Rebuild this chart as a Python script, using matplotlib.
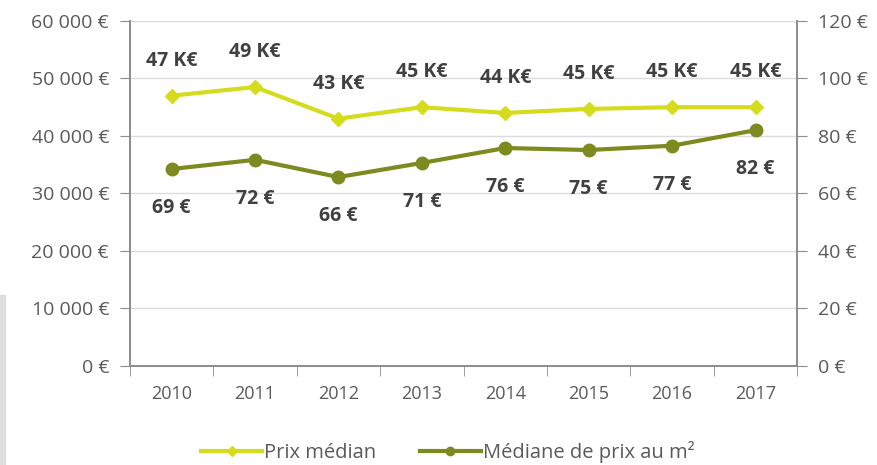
import matplotlib.pyplot as plt
import matplotlib.patches as mpatches
from matplotlib.ticker import FuncFormatter

years = ["2010", "2011", "2012", "2013", "2014", "2015", "2016", "2017"]
prix_median = [47000, 48500, 43000, 45000, 44000, 44700, 45000, 45000]
prix_m2 = [68.5, 71.7, 65.7, 70.6, 75.8, 75.1, 76.6, 82.0]
prix_labels = ["47 K€", "49 K€", "43 K€", "45 K€", "44 K€", "45 K€", "45 K€", "45 K€"]
m2_labels = ["69 €", "72 €", "66 €", "71 €", "76 €", "75 €", "77 €", "82 €"]

LIGHT = "#d5dc1e"
DARK = "#7d8a1f"
TXT = "#404040"
TICK = "#5a5a5a"
AXC = "#8c8c8c"

plt.rcParams["font.family"] = ["Open Sans", "DejaVu Sans"]

fig = plt.figure(figsize=(8.78, 4.65), dpi=100)
ax = fig.add_axes([0.148, 0.213, 0.760, 0.742])
ax2 = ax.twinx()

x = list(range(len(years)))

ax.plot(x, prix_median, color=LIGHT, lw=3, marker="D", ms=7, zorder=3)
ax2.plot(x, prix_m2, color=DARK, lw=3, marker="o", ms=9, zorder=3)

for i, lab in enumerate(prix_labels):
    ax.annotate(lab, (i, prix_median[i]), xytext=(0, 25), textcoords="offset points",
                ha="center", va="center", fontsize=14, fontweight="bold", color=TXT)
for i, lab in enumerate(m2_labels):
    ax2.annotate(lab, (i, prix_m2[i]), xytext=(0, -28), textcoords="offset points",
                 ha="center", va="center", fontsize=14, fontweight="bold", color=TXT)

ax.set_xlim(-0.5, 7.5)
ax.set_ylim(0, 60000)
ax2.set_ylim(0, 120)
ax.set_yticks(range(0, 60001, 10000))
ax2.set_yticks(range(0, 121, 20))
ax.yaxis.set_major_formatter(FuncFormatter(lambda v, p: f"{int(v):,} €".replace(",", " ")))
ax2.yaxis.set_major_formatter(FuncFormatter(lambda v, p: f"{int(v)} €"))

ax.set_xticks(x)
ax.set_xticklabels(years)
ax.set_xticks([i - 0.5 for i in range(len(years) + 1)], minor=True)
ax.tick_params(axis="x", which="major", length=0, pad=14, labelsize=13, labelcolor=TICK)
ax.tick_params(axis="x", which="minor", length=7, color=AXC)
ax.tick_params(axis="y", length=7, color=AXC, labelsize=14, labelcolor=TICK, pad=8)
ax2.tick_params(axis="y", length=7, color=AXC, labelsize=14, labelcolor=TICK, pad=8)

ax.grid(axis="y", color="#dcdcdc", lw=1)
ax.set_axisbelow(True)
for a in (ax, ax2):
    a.spines["top"].set_visible(False)
    for s in ("left", "right", "bottom"):
        a.spines[s].set_color(AXC)
        a.spines[s].set_linewidth(1.2)

h1 = plt.Line2D([], [], color=LIGHT, lw=3, marker="D", ms=5)
h2 = plt.Line2D([], [], color=DARK, lw=3, marker="o", ms=6)
fig.legend([h1, h2], ["Prix médian", "Médiane de prix au m²"], loc="lower center",
           bbox_to_anchor=(0.51, -0.035), ncol=2, frameon=False, fontsize=14.5,
           handlelength=3, handletextpad=0.1, columnspacing=2.2, labelcolor=TICK)

fig.patches.append(mpatches.Rectangle((0, 0), 0.006, 0.365, transform=fig.transFigure,
                                      color="#dedede", zorder=0))

fig.savefig("out.png", dpi=100)
